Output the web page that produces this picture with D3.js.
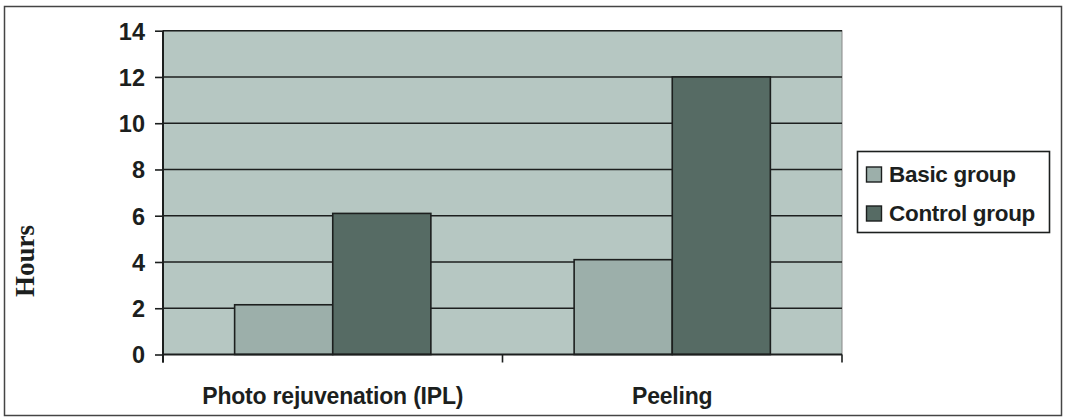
<!DOCTYPE html>
<html><head><meta charset="utf-8">
<script src="https://cdn.jsdelivr.net/npm/d3@7"></script>
<style>html,body{margin:0;padding:0;background:#fff;}svg{display:block;}</style>
</head><body>
<svg id="c" width="1065" height="418"></svg>
<script>
const categories = ["Photo rejuvenation (IPL)", "Peeling"];
const seriesNames = ["Basic group", "Control group"];
const basicValues = [2.15, 4.1];
const controlValues = [6.1, 12.0];
const yTicks = [0, 2, 4, 6, 8, 10, 12, 14];
const colors = ["#9cafaa", "#566b64"];

const svg = d3.select("#c");
const m = {left: 163, right: 842, top: 30.7, bottom: 354.5};
const sans = "'Liberation Sans', Arial, sans-serif";
const ink = "#1c1f1e";

// outer frame
svg.append("rect").attr("x", 4.5).attr("y", 6.5).attr("width", 1057).attr("height", 409)
  .attr("fill", "#fff").attr("stroke", "#444").attr("stroke-width", 1.5);

const x0 = d3.scaleBand().domain(categories).range([m.left, m.right]).paddingInner(0).paddingOuter(0);
const x1 = d3.scaleBand().domain(seriesNames).range([0, x0.bandwidth()]).paddingInner(0).paddingOuter(0.73);
const y = d3.scaleLinear().domain([0, 14]).range([m.bottom, m.top]);

// plot area
svg.append("rect").attr("x", m.left).attr("y", m.top).attr("width", m.right - m.left).attr("height", m.bottom - m.top)
  .attr("fill", "#b6c7c2").attr("stroke", "#888").attr("stroke-width", 1);

// gridlines
svg.append("g").selectAll("line").data(yTicks.filter(d => d > 0)).join("line")
  .attr("x1", m.left).attr("x2", m.right).attr("y1", d => y(d)).attr("y2", d => y(d))
  .attr("stroke", ink).attr("stroke-width", 1.6);

// bars
const data = categories.map((c, i) => ({cat: c, vals: [basicValues[i], controlValues[i]]}));
const g = svg.append("g").selectAll("g").data(data).join("g")
  .attr("transform", d => `translate(${x0(d.cat)},0)`);
g.selectAll("rect").data(d => d.vals.map((v, j) => ({name: seriesNames[j], v, j}))).join("rect")
  .attr("x", d => x1(d.name)).attr("width", x1.bandwidth())
  .attr("y", d => y(d.v)).attr("height", d => y(0) - y(d.v))
  .attr("fill", d => colors[d.j]).attr("stroke", ink).attr("stroke-width", 1.6);

// y axis
const yAxis = d3.axisLeft(y).tickValues(yTicks).tickSize(8).tickPadding(10);
const ya = svg.append("g").attr("transform", `translate(${m.left},0)`).call(yAxis);
ya.select(".domain").attr("stroke", ink).attr("stroke-width", 2).attr("d", `M0,${m.top}V${m.bottom + 8}`);
ya.selectAll(".tick line").attr("stroke", ink).attr("stroke-width", 1.6);
ya.selectAll(".tick text").attr("font-family", sans)
  .attr("font-weight", "bold").attr("font-size", 23.5).attr("fill", ink).attr("dy", "0.36em");

// x axis
const xa = svg.append("g").attr("transform", `translate(0,${m.bottom})`);
xa.append("line").attr("x1", m.left).attr("x2", m.right).attr("y1", 0).attr("y2", 0)
  .attr("stroke", ink).attr("stroke-width", 2);
const bounds = [m.left].concat(categories.map(c => x0(c) + x0.bandwidth()));
xa.selectAll("line.tk").data(bounds).join("line").attr("class", "tk")
  .attr("x1", d => d).attr("x2", d => d).attr("y1", 0).attr("y2", 8)
  .attr("stroke", ink).attr("stroke-width", 1.6);
xa.selectAll("text").data(categories).join("text")
  .attr("x", d => x0(d) + x0.bandwidth() / 2).attr("y", 49)
  .attr("text-anchor", "middle")
  .attr("font-family", sans).attr("font-weight", "bold")
  .attr("font-size", 23).attr("fill", ink).attr("letter-spacing", "-0.2")
  .text(d => d);

// y title
svg.append("text").attr("transform", "translate(34,261) rotate(-90)")
  .attr("text-anchor", "middle").attr("font-family", "'Liberation Serif', 'Times New Roman', serif")
  .attr("font-weight", "bold").attr("font-size", 27).attr("fill", ink).text("Hours");

// legend
const lg = svg.append("g");
lg.append("rect").attr("x", 857.5).attr("y", 151.5).attr("width", 192).attr("height", 81)
  .attr("fill", "#fff").attr("stroke", ink).attr("stroke-width", 1.6);
const li = lg.selectAll("g").data(seriesNames).join("g")
  .attr("transform", (d, i) => `translate(0,${i * 39})`);
li.append("rect").attr("x", 866.5).attr("y", 167).attr("width", 15).attr("height", 15)
  .attr("fill", (d, i) => colors[i]).attr("stroke", ink).attr("stroke-width", 1.4);
li.append("text").attr("x", 889).attr("y", 182)
  .attr("font-family", sans).attr("font-weight", "bold")
  .attr("font-size", 22.5).attr("fill", ink).attr("letter-spacing", "-0.3").text(d => d);
</script>
</body></html>
